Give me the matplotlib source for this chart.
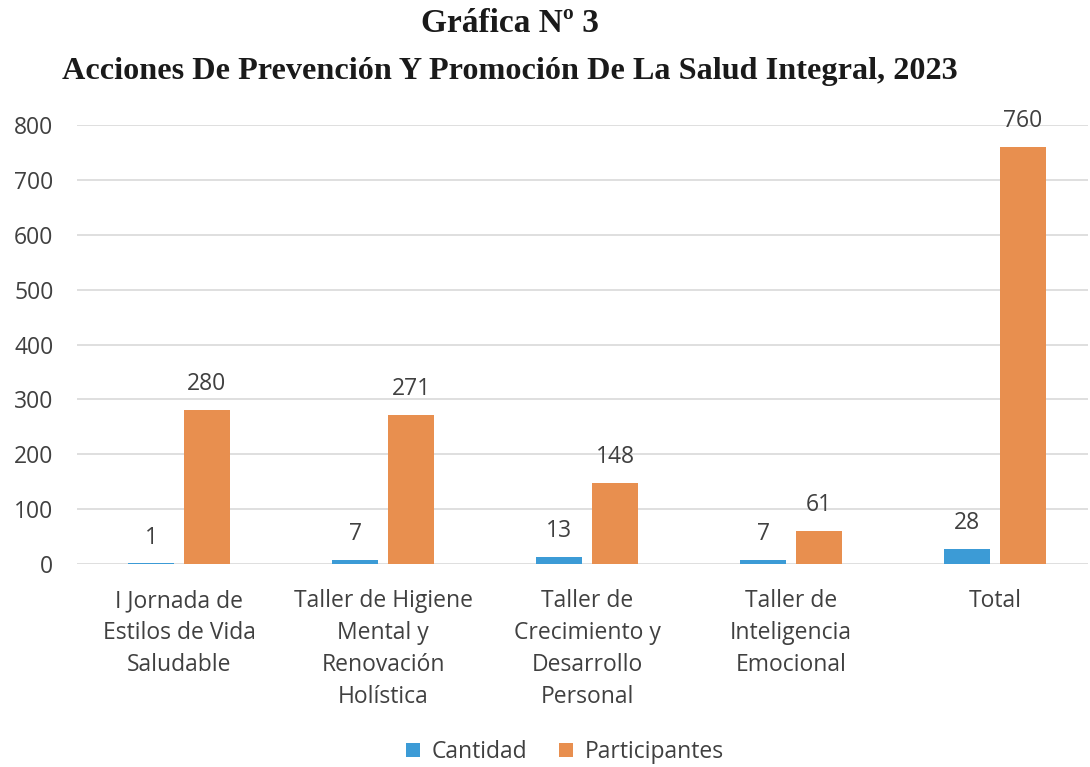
import numpy as np
import matplotlib
matplotlib.use('Agg')
import matplotlib.pyplot as plt

# Data
categorias = ['I Jornada de\nEstilos de Vida\nSaludable',
              'Taller de Higiene\nMental y\nRenovación\nHolística',
              'Taller de\nCrecimiento y\nDesarrollo\nPersonal',
              'Taller de\nInteligencia\nEmocional',
              'Total']
cantidad = [1, 7, 13, 7, 28]
participantes = [280, 271, 148, 61, 760]
yticks = [0, 100, 200, 300, 400, 500, 600, 700, 800]

color_cant = '#3C9BD6'
color_part = '#E88F4F'
text_color = '#404040'
fs = 16.5

plt.rcParams['font.family'] = ['Open Sans', 'DejaVu Sans']

fig = plt.figure(figsize=(10.9, 7.67), dpi=100)
ax = fig.add_axes([77 / 1090, 1 - 564 / 767, (1088 - 77) / 1090, (564 - 125) / 767])

x = np.arange(len(categorias))
w = 0.225
off = 0.137
b1 = ax.bar(x - off, cantidad, w, color=color_cant, zorder=3)
b2 = ax.bar(x + off, participantes, w, color=color_part, zorder=3)

for bars, vals in [(b1, cantidad), (b2, participantes)]:
    for r, v in zip(bars, vals):
        ax.annotate(str(v), (r.get_x() + r.get_width() / 2, v),
                    xytext=(0, 10), textcoords='offset points',
                    ha='center', va='bottom', fontsize=fs, color=text_color,
                    annotation_clip=False)

ax.set_xlim(-0.5, len(categorias) - 0.5 - 0.045)
ax.set_ylim(0, 800)
ax.set_yticks(yticks)
ax.set_yticklabels([str(t) for t in yticks], fontsize=fs, color=text_color)
ax.set_xticks(x)
ax.set_xticklabels(categorias, fontsize=fs, color=text_color, linespacing=1.45, va='top')
ax.tick_params(axis='both', length=0)
ax.tick_params(axis='y', pad=17)
ax.tick_params(axis='x', pad=18)
ax.grid(axis='y', color='#D9D9D9', linewidth=1.2, zorder=0)
for s in ax.spines.values():
    s.set_visible(False)

fig.text(0.468, 1 - 23 / 767, 'Gráfica Nº 3', ha='center', va='center',
         fontsize=24, fontweight='bold', family='Liberation Serif', color='#1a1a1a')
fig.text(0.468, 1 - 71 / 767, 'Acciones De Prevención Y Promoción De La Salud Integral, 2023',
         ha='center', va='center', fontsize=23.2, fontweight='bold',
         family='Liberation Serif', color='#1a1a1a')

fig.legend([b1, b2], ['Cantidad', 'Participantes'], loc='center',
           bbox_to_anchor=(565 / 1090, 1 - 752 / 767), ncol=2, frameon=False,
           fontsize=fs, handlelength=0.6, handleheight=0.6, columnspacing=1.4,
           handletextpad=0.5, labelcolor=text_color)

fig.savefig('out.png', dpi=100)
